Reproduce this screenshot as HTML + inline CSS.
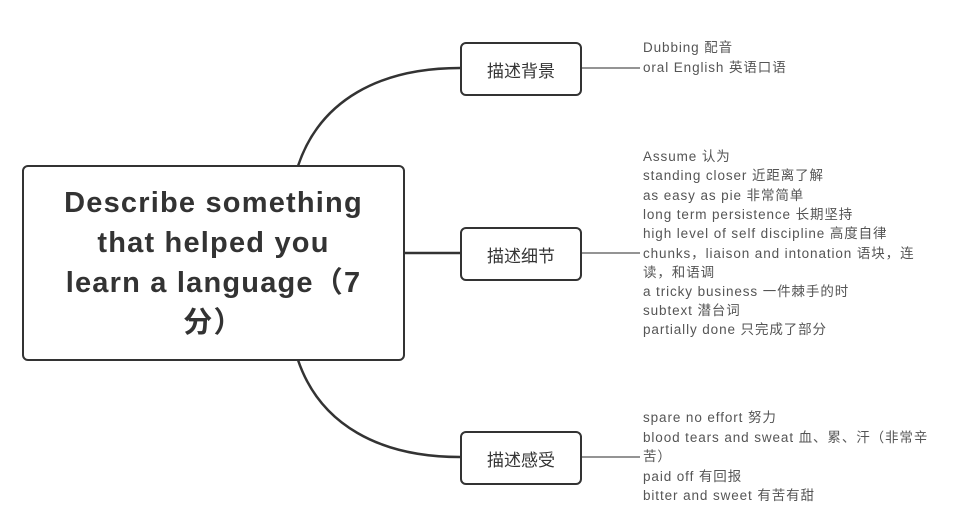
<!DOCTYPE html>
<html><head><meta charset="utf-8"><style>
body{margin:0;width:970px;height:523px;background:#fff;position:relative;overflow:hidden;font-family:"Liberation Sans","Noto Sans CJK SC",sans-serif}
.box{position:absolute;border:2.5px solid #333;border-radius:6px;box-sizing:border-box;background:#fff}
.n{position:absolute;left:460px;width:122px;height:54px;display:flex;align-items:center;justify-content:center;font-size:17px;color:#333}
.t{position:absolute;left:643px;font-size:13.5px;letter-spacing:0.9px;color:#555;white-space:nowrap;line-height:16px;transform:translateY(-8px)}
.c{position:absolute;left:22px;top:165px;width:383px;height:196px;display:flex;flex-direction:column;align-items:center;justify-content:center;font-weight:bold;font-size:29px;letter-spacing:1.2px;color:#333;line-height:40px;text-align:center}
</style></head><body>
<svg width="970" height="523" style="position:absolute;left:0;top:0">
<g fill="none" stroke="#333" stroke-width="2.5">
<path d="M298 166 C320 100 380 68 460 68"/>
<path d="M298 360 C320 425 380 457 460 457"/>
<path d="M404 253 L460 253"/>
</g>
<g stroke="#555" stroke-width="1.2">
<line x1="582" y1="68" x2="640" y2="68"/>
<line x1="582" y1="253" x2="640" y2="253"/>
<line x1="582" y1="457" x2="640" y2="457"/>
</g>
</svg>
<div class="box c"><div>Describe something</div><div>that helped you</div><div>learn a language（7</div><div>分）</div></div>
<div class="box n" style="top:42px">描述背景</div>
<div class="box n" style="top:227px">描述细节</div>
<div class="box n" style="top:431px">描述感受</div>
<div class="t" style="top:48px">Dubbing 配音</div>
<div class="t" style="top:68px">oral English 英语口语</div>
<div class="t" style="top:157px">Assume 认为</div>
<div class="t" style="top:176px">standing closer 近距离了解</div>
<div class="t" style="top:196px">as easy as pie 非常简单</div>
<div class="t" style="top:215px">long term persistence 长期坚持</div>
<div class="t" style="top:234px">high level of self discipline 高度自律</div>
<div class="t" style="top:254px">chunks，liaison and intonation 语块，连</div>
<div class="t" style="top:273px">读，和语调</div>
<div class="t" style="top:292px">a tricky business 一件棘手的时</div>
<div class="t" style="top:311px">subtext 潜台词</div>
<div class="t" style="top:330px">partially done 只完成了部分</div>
<div class="t" style="top:418px">spare no effort 努力</div>
<div class="t" style="top:438px">blood tears and sweat 血、累、汗（非常辛</div>
<div class="t" style="top:457px">苦）</div>
<div class="t" style="top:477px">paid off 有回报</div>
<div class="t" style="top:496px">bitter and sweet 有苦有甜</div>
</body></html>
